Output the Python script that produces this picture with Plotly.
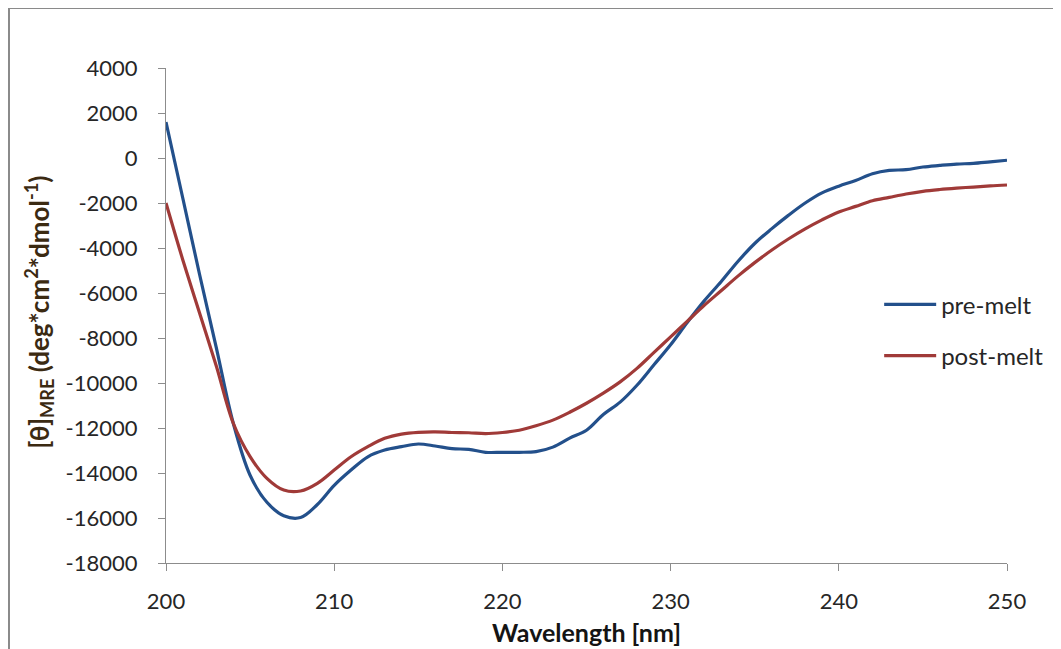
import plotly.graph_objects as go

wavelength = list(range(200, 251))

pre_melt = [1600, -1790, -5190, -8460, -11790, -14100, -15300, -15900, -15980, -15400,
            -14550, -13870, -13280, -12980, -12830, -12710, -12800, -12920, -12950, -13080,
            -13080, -13080, -13050, -12850, -12450, -12100, -11400, -10850, -10100, -9200,
            -8300, -7300, -6350, -5500, -4600, -3800, -3150, -2550, -2000, -1550,
            -1250, -1000, -700, -550, -520, -400, -330, -270, -240, -170, -100]

post_melt = [-2000, -4530, -6900, -9270, -11790, -13270, -14240, -14760, -14800, -14460,
             -13870, -13280, -12830, -12460, -12270, -12190, -12170, -12200, -12210, -12250,
             -12200, -12100, -11900, -11650, -11300, -10900, -10450, -9950, -9350, -8650,
             -7950, -7250, -6550, -5900, -5250, -4650, -4100, -3600, -3150, -2750,
             -2400, -2150, -1900, -1750, -1600, -1480, -1400, -1340, -1290, -1240, -1200]

x_ticks = [200, 210, 220, 230, 240, 250]
y_ticks = list(range(-18000, 4001, 2000))
y_ticktext = [str(v) for v in y_ticks]

FONT = "Lato, 'Open Sans', sans-serif"

fig = go.Figure()
fig.add_trace(go.Scatter(x=wavelength, y=pre_melt, mode="lines", name="pre-melt",
                         legendgroup="a",
                         line=dict(color="#23508b", width=3.2, shape="spline")))
fig.add_trace(go.Scatter(x=wavelength, y=post_melt, mode="lines", name="post-melt",
                         legendgroup="b",
                         line=dict(color="#a03a38", width=3.2, shape="spline")))

axis_common = dict(showgrid=False, zeroline=False, showline=True, linecolor="#8c8c8c",
                   linewidth=1, ticks="outside", ticklen=7, tickcolor="#8c8c8c",
                   tickfont=dict(family=FONT, size=22, color="#262626"))

fig.update_xaxes(range=[200, 250], tickvals=x_ticks, ticktext=[str(v) for v in x_ticks],
                 ticklabelstandoff=12, **axis_common)
fig.update_yaxes(range=[-18000, 4000], tickvals=y_ticks, ticktext=y_ticktext,
                 ticklabelstandoff=16, **axis_common)

fig.add_annotation(text="<b>[θ]<sub>MRE</sub> (deg*cm<sup>2</sup>*dmol<sup>-1</sup>)</b>",
                   xref="paper", yref="paper", x=-0.152, y=0.506, textangle=-90,
                   showarrow=False, font=dict(family=FONT, size=26, color="#3b2a12"),
                   xanchor="center", yanchor="middle")

fig.add_annotation(text="<b>Wavelength [nm]</b>",
                   xref="paper", yref="paper", x=0.5, y=-0.139,
                   showarrow=False, font=dict(family=FONT, size=25, color="#141414"),
                   xanchor="center", yanchor="middle")

fig.add_shape(type="rect", xref="paper", yref="paper",
              x0=-0.1867, y0=-0.3, x1=1.15, y1=1.1212,
              line=dict(color="#8a8a8a", width=2), fillcolor="rgba(0,0,0,0)", layer="below")

fig.update_layout(
    width=1061, height=649,
    margin=dict(l=158, r=62, t=60, b=94),
    plot_bgcolor="white", paper_bgcolor="white",
    showlegend=True,
    legend=dict(x=0.848, y=0.567, xanchor="left", yanchor="top",
                font=dict(family=FONT, size=24, color="#262626"),
                bgcolor="rgba(0,0,0,0)", tracegroupgap=17, itemwidth=52,
                traceorder="grouped"),
)

fig.write_html("out.html")
